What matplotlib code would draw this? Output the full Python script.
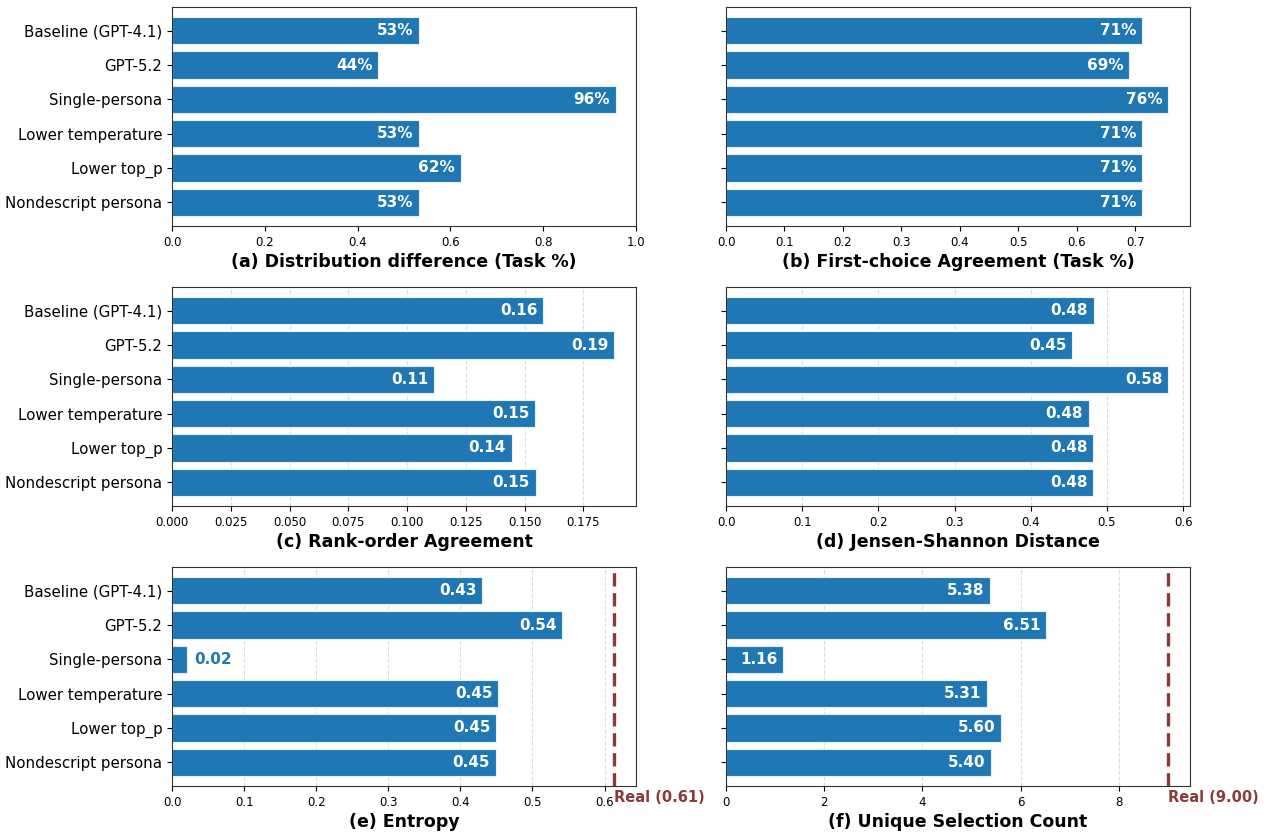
import matplotlib
matplotlib.use("Agg")
import matplotlib.pyplot as plt
import matplotlib.transforms as mtransforms

categories = ["Baseline (GPT-4.1)", "GPT-5.2", "Single-persona",
              "Lower temperature", "Lower top_p", "Nondescript persona"]

dist_diff = [0.533, 0.444, 0.956, 0.533, 0.622, 0.533]
first_choice = [0.711, 0.689, 0.756, 0.711, 0.711, 0.711]
rank_order = [0.158, 0.188, 0.1115, 0.1545, 0.1445, 0.1547]
js_dist = [0.4825, 0.454, 0.580, 0.476, 0.482, 0.4815]
entropy = [0.430, 0.541, 0.0215, 0.452, 0.450, 0.449]
unique_count = [5.38, 6.51, 1.16, 5.31, 5.60, 5.40]

entropy_real = 0.613
unique_real = 9.00

titles = ["(a) Distribution difference (Task %)",
          "(b) First-choice Agreement (Task %)",
          "(c) Rank-order Agreement",
          "(d) Jensen-Shannon Distance",
          "(e) Entropy",
          "(f) Unique Selection Count"]

BAR = "#1f77b4"
REAL = "#8b3a3a"

fig = plt.figure(figsize=(12.69, 8.36), dpi=100)
W, H = 1269, 836
lefts = [172, 726]
tops = [7, 287, 567]
aw, ah = 464, 219

panels = [
    (dist_diff, "pct", None, False),
    (first_choice, "pct", None, False),
    (rank_order, "2f", None, True),
    (js_dist, "2f", None, True),
    (entropy, "2f", entropy_real, True),
    (unique_count, "2f", unique_real, True),
]

for i, (vals, fmt, real, grid) in enumerate(panels):
    r, c = divmod(i, 2)
    ax = fig.add_axes([lefts[c] / W, 1 - (tops[r] + ah) / H, aw / W, ah / H])
    y = list(range(len(categories)))
    ax.barh(y, vals, height=0.8, color=BAR, edgecolor="#e8f0f8", linewidth=0.8, zorder=2)
    ax.set_yticks(y)
    if c == 0:
        ax.set_yticklabels(categories, fontsize=10.8)
    else:
        ax.set_yticklabels([])
    ax.invert_yaxis()
    mx = max(vals)
    if real is not None:
        mx = max(mx, real)
    if i == 0:
        ax.set_xlim(0, 1.0)
    else:
        ax.set_xlim(0, mx * 1.05)
    xmax = ax.get_xlim()[1]
    ax.tick_params(axis="x", labelsize=8.5)
    ax.set_xlabel(titles[i], fontsize=12.5, fontweight="bold", labelpad=3)
    if grid:
        ax.grid(axis="x", linestyle="--", color="#dddddd", linewidth=0.8, zorder=0)
        ax.set_axisbelow(True)
    for sp in ax.spines.values():
        sp.set_color("#333333")
    for yi, v in zip(y, vals):
        txt = f"{v*100:.0f}%" if fmt == "pct" else f"{v:.2f}"
        if v / xmax < 0.08:
            ax.annotate(txt, (v, yi), xytext=(5, 0), textcoords="offset points",
                        ha="left", va="center", color=BAR, fontsize=11,
                        fontweight="bold")
        else:
            ax.annotate(txt, (v, yi), xytext=(-4, 0), textcoords="offset points",
                        ha="right", va="center", color="white", fontsize=11,
                        fontweight="bold")
    if real is not None:
        ax.axvline(real, color=REAL, linestyle=(0, (4, 2)), linewidth=2.4, zorder=3)
        trans = mtransforms.blended_transform_factory(ax.transData, ax.transAxes)
        ax.text(real, -0.02, f"Real ({real:.2f})", transform=trans, ha="left",
                va="top", color=REAL, fontsize=10.5, fontweight="bold")

fig.savefig("out.png", dpi=100)
